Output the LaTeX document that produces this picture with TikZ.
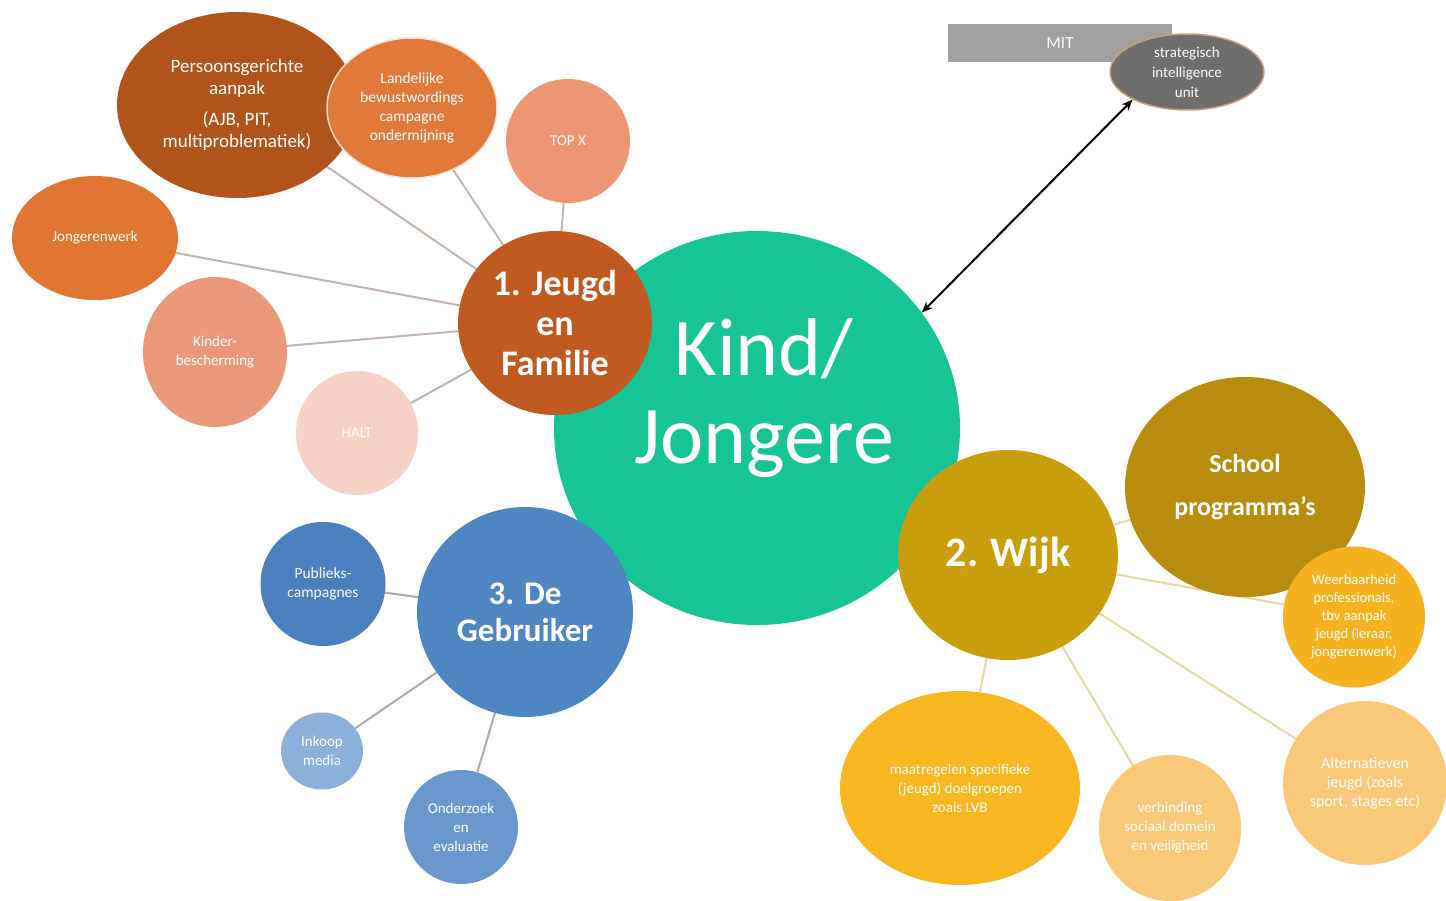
\documentclass[tikz,border=0pt]{standalone}
\usepackage{fontspec}
\setmainfont{Carlito}
\usetikzlibrary{shapes.geometric,arrows.meta}
\definecolor{kindc}{RGB}{22,196,150}
\definecolor{jeugdc}{RGB}{192,90,32}
\definecolor{persc}{RGB}{176,84,28}
\definecolor{landc}{RGB}{224,121,58}
\definecolor{topc}{RGB}{238,150,115}
\definecolor{jongc}{RGB}{224,118,50}
\definecolor{kindbc}{RGB}{236,152,122}
\definecolor{haltc}{RGB}{246,210,196}
\definecolor{wijkc}{RGB}{200,158,12}
\definecolor{schoolc}{RGB}{184,140,12}
\definecolor{weerc}{RGB}{246,178,30}
\definecolor{maatc}{RGB}{248,182,32}
\definecolor{lightgc}{RGB}{249,200,120}
\definecolor{gebrc}{RGB}{78,134,194}
\definecolor{publc}{RGB}{74,128,190}
\definecolor{inkc}{RGB}{140,176,220}
\definecolor{ondc}{RGB}{106,152,206}
\definecolor{mitc}{RGB}{160,160,160}
\definecolor{siuc}{RGB}{110,110,110}
\definecolor{siub}{RGB}{200,160,120}
\definecolor{olinec}{RGB}{195,180,170}
\definecolor{blinec}{RGB}{170,170,175}
\definecolor{glinec}{RGB}{232,216,160}
\pgfdeclarelayer{bg}
\pgfdeclarelayer{edges}
\pgfsetlayers{bg,edges,main}
\begin{document}
\begin{tikzpicture}[x=1pt,y=-1pt,
  bub/.style={ellipse,inner sep=0pt,text=white,align=center},
  txs/.style={font=\fontsize{15}{19}\selectfont},
  oline/.style={draw=olinec,line width=2pt},
  bline/.style={draw=blinec,line width=2pt},
  gline/.style={draw=glinec,line width=2pt}]
\begin{pgfonlayer}{bg}
\fill[white] (0,0) rectangle (1446,900);
\end{pgfonlayer}
\useasboundingbox (0,0) rectangle (1446,900);

% centre
\node[bub,fill=kindc,minimum width=406,minimum height=394] (kind) at (757,428) {};
\node[text=white,align=center,font=\fontsize{82}{88}\selectfont] (kindtxt) at (764,398) {Kind/\\Jongere};

% 1. Jeugd en Familie
\node[bub,fill=persc,minimum width=240,minimum height=186,font=\fontsize{19}{22}\selectfont] (pers) at (237,105) {Persoonsgerichte\\aanpak\\[9pt](AJB, PIT,\\multiproblematiek)};
\node[bub,fill=landc,draw=white!75!landc,line width=1.5pt,minimum width=170,minimum height=140,font=\fontsize{15.5}{19}\selectfont] (land) at (412,108) {Landelijke\\bewustwordings\\campagne\\ondermijning};
\node[bub,fill=topc,minimum width=124,minimum height=124,txs] (topx) at (568,141) {TOP X};
\node[bub,fill=jongc,minimum width=166,minimum height=124,txs] (jong) at (95,238) {Jongerenwerk};
\node[bub,fill=kindbc,minimum width=144,minimum height=150,txs] (kinderb) at (215,352) {Kinder-\\bescherming};
\node[bub,fill=haltc,minimum width=122,minimum height=124,txs] (halt) at (357,433) {HALT};
\node[bub,fill=jeugdc,minimum width=194,minimum height=184,font=\bfseries\fontsize{36}{40}\selectfont] (jeugd) at (555,323) {1. Jeugd\\en\\Familie};

% 3. De Gebruiker
\node[bub,fill=gebrc,minimum width=216,minimum height=210,font=\bfseries\fontsize{33}{37}\selectfont] (gebr) at (525,612) {3. De\\Gebruiker};
\node[bub,fill=publc,minimum width=125,minimum height=124,font=\fontsize{15.5}{19}\selectfont] (publ) at (323,584) {Publieks-\\campagnes};
\node[bub,fill=inkc,minimum width=82,minimum height=77,txs] (inkoop) at (322,751) {Inkoop\\media};
\node[bub,fill=ondc,minimum width=114,minimum height=114,txs] (onderz) at (461,827) {Onderzoek\\en\\evaluatie};

% 2. Wijk
\node[bub,fill=wijkc,minimum width=220,minimum height=210,font=\bfseries\fontsize{42}{46}\selectfont] (wijk) at (1008,555) {2. Wijk};
\node[bub,fill=schoolc,minimum width=240,minimum height=220,font=\bfseries\fontsize{26}{43}\selectfont] (school) at (1245,487) {School\\programma’s};
\node[bub,fill=weerc,minimum width=142,minimum height=141,font=\fontsize{14.5}{18}\selectfont] (weer) at (1354,617) {Weerbaarheid\\professionals,\\tbv aanpak\\jeugd (leraar,\\jongerenwerk)};
\node[bub,fill=maatc,minimum width=240,minimum height=194,font=\fontsize{15}{19}\selectfont] (maat) at (960,788) {maatregelen specifieke\\(jeugd) doelgroepen\\zoals LVB};
\node[bub,fill=lightgc,minimum width=142,minimum height=146,txs] (verb) at (1170,828) {verbinding\\sociaal domein\\en veiligheid};
\node[bub,fill=lightgc,minimum width=164,minimum height=164,font=\fontsize{16}{19}\selectfont] (alt) at (1365,783) {Alternatieven\\jeugd (zoals\\sport, stages etc)};

% MIT
\node[rectangle,fill=mitc,minimum width=224,minimum height=38,inner sep=0pt,text=white,font=\fontsize{17}{20}\selectfont] (mit) at (1060,43) {MIT};
\node[bub,fill=siuc,draw=siub,line width=1.5pt,minimum width=154,minimum height=76,font=\fontsize{15}{20}\selectfont] (siu) at (1187,72) {strategisch\\intelligence\\unit};

% connectors
\begin{pgfonlayer}{edges}
\draw[oline] (pers) -- (jeugd);
\draw[oline] (land) -- (jeugd);
\draw[oline] (topx) -- (jeugd);
\draw[oline] (jong) -- (jeugd);
\draw[oline] (kinderb) -- (jeugd);
\draw[oline] (halt) -- (jeugd);
\draw[bline] (publ) -- (gebr);
\draw[bline] (inkoop) -- (gebr);
\draw[bline] (onderz) -- (gebr);
\draw[gline] (school) -- (wijk);
\draw[gline] (weer) -- (wijk);
\draw[gline] (maat) -- (wijk);
\draw[gline] (verb) -- (wijk);
\draw[gline] (alt) -- (wijk);
\end{pgfonlayer}

\draw[black,line width=2pt,{Stealth[length=11pt,width=9pt]}-{Stealth[length=11pt,width=9pt]}] (kind.35) -- (siu.207);
\end{tikzpicture}
\end{document}
